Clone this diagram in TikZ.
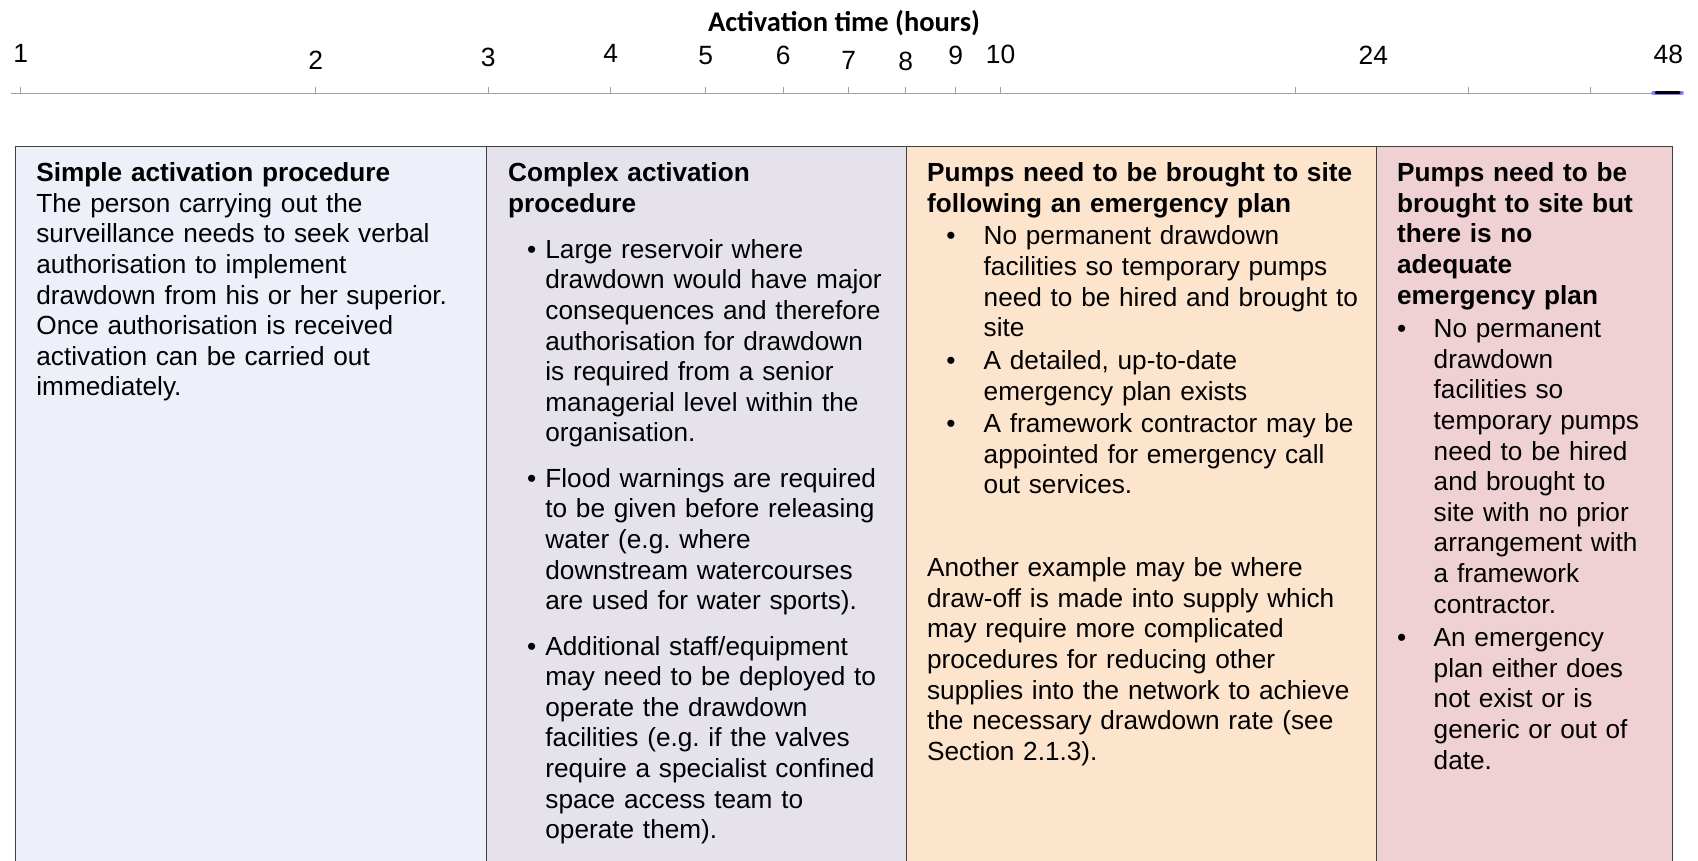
\documentclass[tikz,border=0pt]{standalone}
\usepackage{fontspec}
\setmainfont{Liberation Sans}
\newfontfamily\headfont{Carlito}
\frenchspacing
\definecolor{simplefill}{RGB}{237,240,249}
\definecolor{complexfill}{RGB}{229,226,236}
\definecolor{planfill}{RGB}{252,228,205}
\definecolor{noplanfill}{RGB}{239,208,211}
\definecolor{axisgray}{RGB}{160,160,160}
\newcommand{\bodyfont}{\fontsize{13.1}{15.3}\selectfont}
\tikzset{
  txt/.style={anchor=base west, inner sep=0pt, text width=320pt, align=left, font=\bodyfont},
  bul/.style={anchor=base, inner sep=0pt, font=\bodyfont},
  ticklabel/.style={anchor=base, inner sep=0pt, font=\fontsize{13.2}{15}\selectfont},
  colline/.style={draw=black!75, line width=0.5pt}
}
\begin{document}
\begin{tikzpicture}[x=0.5pt, y=-0.5pt]
  \useasboundingbox (0,0) rectangle (1698,861);

  % time axis (log scale)
  \node[anchor=base, inner sep=0pt, font=\headfont\bfseries\fontsize{14.25}{17}\selectfont] (axistitle) at (844,31.7) {Activation time (hours)};
  \draw[axisgray, line width=0.5pt] (11,94) -- (1683,94);
  \foreach \t in {1,...,10,20,30,40}
    \draw[axisgray, line width=0.5pt] ({20.7+425.6*ln(\t)},87) -- ++(0,7);
  \foreach \t/\y in {1/63,2/70,3/67,4/63,5/65,6/65,7/70,8/71,9/65,10/63.3,24/65,48/64}
    \node[ticklabel] (h\t) at ({20.7+425.6*ln(\t)},\y) {\t};
  \draw[blue!50, line width=1.8pt, line cap=round] (1653,93) -- (1682,93);
  \draw[black, line width=1.5pt, line cap=round] (1656,93) -- (1679,93);

  % columns
  \fill[simplefill] (15.7,146.7) rectangle (486.7,880);
  \fill[complexfill] (486.7,146.7) rectangle (906.7,880);
  \fill[planfill] (906.7,146.7) rectangle (1376.7,880);
  \fill[noplanfill] (1376.7,146.7) rectangle (1672.7,880);
  \draw[colline] (15.7,880) -- (15.7,146.7) -- (1672.7,146.7) -- (1672.7,880);
  \foreach \x in {486.7,906.7,1376.7}
    \draw[colline] (\x,146.7) -- (\x,880);

  % simple activation
  \node[txt] (simple) at (36,181.7) {\textbf{Simple activation procedure}\\The person carrying out the\\surveillance needs to seek verbal\\authorisation to implement\\drawdown from his or her superior.\\Once authorisation is received\\activation can be carried out\\immediately.};

  % complex activation
  \node[txt] (complex) at (507.7,181.7) {\textbf{Complex activation}\\\textbf{procedure}};
  \node[bul] (cdot1) at (531.7,258.3) {\textbullet};
  \node[txt] (citem1) at (545,258.3) {Large reservoir where\\drawdown would have major\\consequences and therefore\\authorisation for drawdown\\is required from a senior\\managerial level within the\\organisation.};
  \node[bul] (cdot2) at (531.7,487.3) {\textbullet};
  \node[txt] (citem2) at (545,487.3) {Flood warnings are required\\to be given before releasing\\water (e.g. where\\downstream watercourses\\are used for water sports).};
  \node[bul] (cdot3) at (531.7,655) {\textbullet};
  \node[txt] (citem3) at (545,655) {Additional staff/equipment\\may need to be deployed to\\operate the drawdown\\facilities (e.g. if the valves\\require a specialist confined\\space access team to\\operate them).};

  % pumps with emergency plan
  \node[txt] (plan) at (926.7,181.7) {\textbf{Pumps need to be brought to site}\\\textbf{following an emergency plan}};
  \node[bul] (pdot1) at (951,245) {\textbullet};
  \node[txt] (pitem1) at (983.3,245) {No permanent drawdown\\facilities so temporary pumps\\need to be hired and brought to\\site};
  \node[bul] (pdot2) at (951,370) {\textbullet};
  \node[txt] (pitem2) at (983.3,370) {A detailed, up-to-date\\emergency plan exists};
  \node[bul] (pdot3) at (951,432.7) {\textbullet};
  \node[txt] (pitem3) at (983.3,432.7) {A framework contractor may be\\appointed for emergency call\\out services.};
  \node[txt] (pnote) at (926.7,576.7) {Another example may be where\\draw-off is made into supply which\\may require more complicated\\procedures for reducing other\\supplies into the network to achieve\\the necessary drawdown rate (see\\Section 2.1.3).};

  % pumps without plan
  \node[txt] (noplan) at (1396.7,181.7) {\textbf{Pumps need to be}\\\textbf{brought to site but}\\\textbf{there is no}\\\textbf{adequate}\\\textbf{emergency plan}};
  \node[bul] (ndot1) at (1401.7,337.7) {\textbullet};
  \node[txt] (nitem1) at (1433.3,337.7) {No permanent\\drawdown\\facilities so\\temporary pumps\\need to be hired\\and brought to\\site with no prior\\arrangement with\\a framework\\contractor.};
  \node[bul] (ndot2) at (1401.7,646.7) {\textbullet};
  \node[txt] (nitem2) at (1433.3,646.7) {An emergency\\plan either does\\not exist or is\\generic or out of\\date.};
\end{tikzpicture}
\end{document}
